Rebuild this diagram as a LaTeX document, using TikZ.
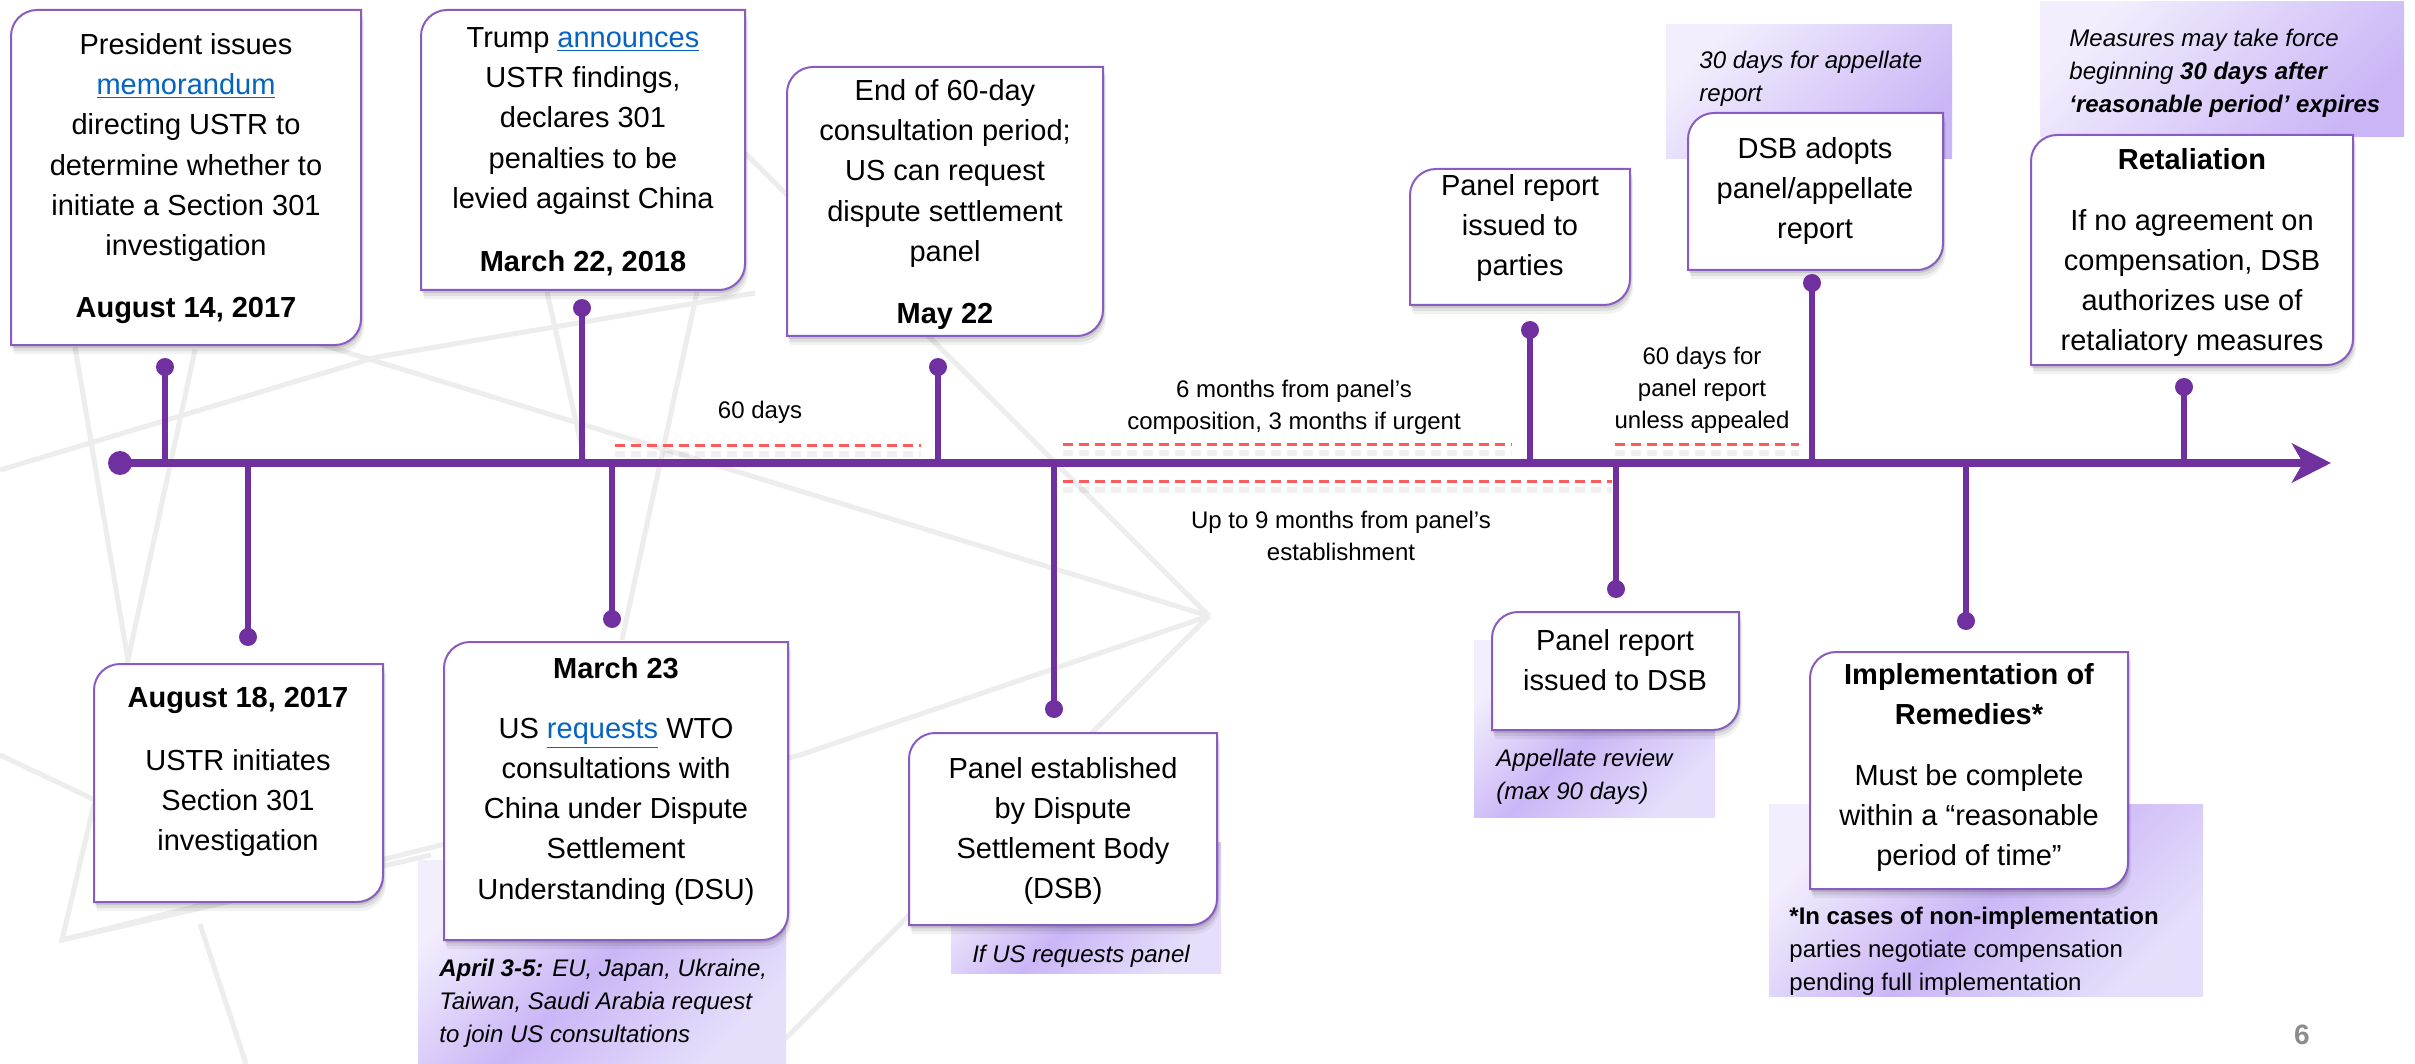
\documentclass[tikz,border=0pt]{standalone}
\usepackage{fontspec}
\setmainfont{Liberation Sans}
\usetikzlibrary{arrows.meta}
\definecolor{axpurple}{HTML}{7030A0}
\definecolor{boxedge}{HTML}{8A5CC2}
\definecolor{linkblue}{HTML}{0563C1}
\definecolor{dashred}{HTML}{FF5A5A}
\definecolor{bggray}{HTML}{EDEDED}
\definecolor{noteA}{HTML}{F3EEFD}
\definecolor{noteB}{HTML}{CAB6F6}
\definecolor{noteC}{HTML}{E6DEFB}
\definecolor{pagegray}{HTML}{8C8C8C}
\pgfdeclarelayer{bglines}\pgfdeclarelayer{notes}\pgfdeclarelayer{boxes}
\pgfsetlayers{bglines,notes,boxes,main}
\newcommand\lnk[1]{{\color{linkblue}\underline{#1}}}
\newcommand\framedraw[3]{%
 \path[#1] (#2.south west) -- ([yshift=-#3]#2.north west)
   .. controls ([yshift=-0.45*#3]#2.north west) and ([xshift=0.45*#3]#2.north west) .. ([xshift=#3]#2.north west)
   -- (#2.north east) -- ([yshift=#3]#2.south east)
   .. controls ([yshift=0.45*#3]#2.south east) and ([xshift=-0.45*#3]#2.south east) .. ([xshift=-#3]#2.south east)
   -- cycle;}
\newcommand\rbox[1]{%
 \begin{pgfonlayer}{boxes}
 \begin{scope}[transform canvas={xshift=0.5pt,yshift=-1.5pt}]\framedraw{fill=black,opacity=0.11}{#1}{13pt}\end{scope}
 \begin{scope}[transform canvas={xshift=1pt,yshift=-3pt}]\framedraw{fill=black,opacity=0.08}{#1}{13pt}\end{scope}
 \begin{scope}[transform canvas={xshift=1.5pt,yshift=-4.5pt}]\framedraw{fill=black,opacity=0.05}{#1}{13pt}\end{scope}
 \framedraw{fill=white,draw=boxedge,line width=1pt}{#1}{13pt}
 \end{pgfonlayer}}
\tikzset{
 frame/.style={inner sep=0pt,outer sep=0pt,draw=none},
 boxtext/.style={align=center,inner sep=0pt,font=\fontsize{14.5}{20.1}\selectfont},
 boxdate/.style={align=center,inner sep=0pt,font=\fontsize{14.5}{20.1}\selectfont\bfseries},
 lbl/.style={align=center,inner sep=0pt,font=\fontsize{12}{16}\selectfont},
 notetext/.style={align=left,inner sep=0pt,anchor=west,font=\fontsize{12}{16.5}\selectfont},
 dot/.style={circle,fill=axpurple,inner sep=0pt,minimum size=9pt},
 bigdot/.style={circle,fill=axpurple,inner sep=0pt,minimum size=12pt},
 stem/.style={axpurple,line width=3pt},
 axis/.style={axpurple,line width=4pt,-{Stealth[length=19.5pt,width=19.5pt,inset=5.5pt]}},
 redline/.style={dashred,line width=1.5pt,dash pattern=on 5pt off 3pt},
 redshadow/.style={black,opacity=0.06,line width=3pt,dash pattern=on 5pt off 3pt},
 bgline/.style={bggray,line width=2.5pt},
 notefill3/.style={top color=noteA,bottom color=noteC,middle color=noteB,shading angle=45},
 notefill2/.style={top color=noteA,bottom color=noteB,shading angle=45},
}
\begin{document}
\begin{tikzpicture}[x=0.5pt,y=-0.5pt]
\useasboundingbox (0,0) rectangle (2415,1064);

% background decoration
\begin{pgfonlayer}{bglines}
\fill[white] (0,0) rectangle (2415,1064);
\draw[bgline] (0,470) -- (377,357) -- (755,293);
\draw[bgline] (300,338) -- (1209,616);
\draw[bgline] (745,153) -- (1209,616);
\draw[bgline] (1209,616) -- (800,755) -- (62,940);
\draw[bgline] (1209,616) -- (760,1064);
\draw[bgline] (75,347) -- (128,660) -- (195,350);
\draw[bgline] (128,660) -- (62,940) -- (431,855);
\draw[bgline] (200,924) -- (246,1064);
\draw[bgline] (0,755) -- (95,800);
\draw[bgline] (547,292) -- (585,462);
\draw[bgline] (697,292) -- (622,640);
\end{pgfonlayer}

% notes
\begin{pgfonlayer}{notes}
\shade[notefill3] (418,860) rectangle (786,1064);
\shade[notefill3] (951,842) rectangle (1221,973);
\shade[notefill3] (1474,640) rectangle (1715,817);
\shade[notefill2] (1666,25) rectangle (1952,159);
\shade[notefill2] (2040,2) rectangle (2404,137);
\shade[notefill3] (1769,804) rectangle (2203,996);
\end{pgfonlayer}
\node[notetext,font=\fontsize{12}{16.5}\selectfont\itshape] (n1) at (439,1003) {\textbf{April 3-5:} EU, Japan, Ukraine,\\Taiwan, Saudi Arabia request\\to join US consultations};
\node[lbl,font=\fontsize{12}{16.5}\selectfont\itshape] (n2) at (1081,956) {If US requests panel};
\node[notetext,font=\fontsize{12}{16.5}\selectfont\itshape] (n3) at (1496,777) {Appellate review\\(max 90 days)};
\node[notetext,font=\fontsize{12}{16.5}\selectfont\itshape] (n4) at (1699,79) {30 days for appellate\\report};
\node[notetext,font=\fontsize{12}{16.5}\selectfont\itshape] (n5) at (2069,73) {Measures may take force\\beginning \textbf{30 days after}\\\textbf{‘reasonable period’ expires}};
\node[notetext] (n6) at (1789,951) {\textbf{*In cases of non-implementation}\\parties negotiate compensation\\pending full implementation};

% frames
\node[frame,minimum width=175pt,minimum height=167.5pt] (f1) at (186,177.5) {};
\node[frame,minimum width=162pt,minimum height=140pt] (f2) at (583,150) {};
\node[frame,minimum width=158pt,minimum height=134.5pt] (f3) at (945,201.5) {};
\node[frame,minimum width=144.5pt,minimum height=119pt] (f4) at (238.5,783) {};
\node[frame,minimum width=172pt,minimum height=149pt] (f5) at (616,791) {};
\node[frame,minimum width=154pt,minimum height=96pt] (f6) at (1063,829) {};
\node[frame,minimum width=110pt,minimum height=68pt] (f7) at (1520,237) {};
\node[frame,minimum width=123.5pt,minimum height=59pt] (f8) at (1615.5,671) {};
\node[frame,minimum width=127.5pt,minimum height=78.5pt] (f9) at (1815.5,191.5) {};
\node[frame,minimum width=161pt,minimum height=115pt] (f10) at (2192,250) {};
\node[frame,minimum width=159pt,minimum height=118.5pt] (f11) at (1969,770.5) {};
\rbox{f1}\rbox{f2}\rbox{f3}\rbox{f4}\rbox{f5}\rbox{f6}\rbox{f7}\rbox{f8}\rbox{f9}\rbox{f10}\rbox{f11}

% box texts
\node[boxtext] (t1) at (186,147.5) {President issues\\\lnk{memorandum}\\directing USTR to\\determine whether to\\initiate a Section 301\\investigation};
\node[boxdate] (t1d) at (186,310) {August 14, 2017};
\node[boxtext] (t2) at (583,121) {Trump \lnk{announces}\\USTR findings,\\declares 301\\penalties to be\\levied against China};
\node[boxdate] (t2d) at (583,263) {March 22, 2018};
\node[boxtext] (t3) at (945,173.5) {End of 60-day\\consultation period;\\US can request\\dispute settlement\\panel};
\node[boxdate] (t3d) at (945,316) {May 22};
\node[boxdate] (t4d) at (238,700) {August 18, 2017};
\node[boxtext] (t4) at (238,803) {USTR initiates\\Section 301\\investigation};
\node[boxdate] (t5d) at (616,668) {March 23};
\node[boxtext] (t5) at (616,811.5) {US \lnk{requests} WTO\\consultations with\\China under Dispute\\Settlement\\Understanding (DSU)};
\node[boxtext] (t6) at (1063,831) {Panel established\\by Dispute\\Settlement Body\\(DSB)};
\node[boxtext] (t7) at (1520,228) {Panel report\\issued to\\parties};
\node[boxtext] (t8) at (1615,660.5) {Panel report\\issued to DSB};
\node[boxtext] (t9) at (1815,191) {DSB adopts\\panel/appellate\\report};
\node[boxdate] (t10d) at (2192,159) {Retaliation};
\node[boxtext] (t10) at (2192,283) {If no agreement on\\compensation, DSB\\authorizes use of\\retaliatory measures};
\node[boxdate] (t11d) at (1969,694) {Implementation of\\Remedies*};
\node[boxtext] (t11) at (1969,818) {Must be complete\\within a “reasonable\\period of time”};

% period labels and dashed spans
\node[lbl] (l1) at (760,412) {60 days};
\node[lbl] (l2) at (1294,407) {6 months from panel’s\\composition, 3 months if urgent};
\node[lbl] (l3) at (1702,390) {60 days for\\panel report\\unless appealed};
\node[lbl] (l4) at (1341,536) {Up to 9 months from panel’s\\establishment};
\coordinate (p1a) at (615,445); \coordinate (p1b) at (921,445);
\coordinate (p2a) at (1063,444); \coordinate (p2b) at (1512,444);
\coordinate (p3a) at (1615,444); \coordinate (p3b) at (1799,444);
\coordinate (p4a) at (1063,481); \coordinate (p4b) at (1612,481);
\foreach \a/\b in {p1a/p1b,p2a/p2b,p3a/p3b,p4a/p4b}{
  \draw[redshadow,transform canvas={yshift=-4.5pt}] (\a) -- (\b);
  \draw[redline] (\a) -- (\b);
}

% axis
\node[bigdot] (start) at (120,463) {};
\coordinate (axend) at (2331,463);
\draw[axis] (start.center) -- (axend);

% stems above
\node[dot] (d1) at (165,367) {};  \coordinate (a1) at (165,463);
\node[dot] (d2) at (582,308) {};  \coordinate (a2) at (582,463);
\node[dot] (d3) at (938,367) {};  \coordinate (a3) at (938,463);
\node[dot] (d4) at (1530,330) {}; \coordinate (a4) at (1530,463);
\node[dot] (d5) at (1812,283) {}; \coordinate (a5) at (1812,463);
\node[dot] (d6) at (2184,387) {}; \coordinate (a6) at (2184,463);
% stems below
\node[dot] (e1) at (248,637) {};  \coordinate (b1) at (248,463);
\node[dot] (e2) at (612,619) {};  \coordinate (b2) at (612,463);
\node[dot] (e3) at (1054,709) {}; \coordinate (b3) at (1054,463);
\node[dot] (e4) at (1616,589) {}; \coordinate (b4) at (1616,463);
\node[dot] (e5) at (1966,621) {}; \coordinate (b5) at (1966,463);
\foreach \d/\c in {d1/a1,d2/a2,d3/a3,d4/a4,d5/a5,d6/a6,e1/b1,e2/b2,e3/b3,e4/b4,e5/b5}{
  \draw[stem] (\d.center) -- (\c);
}

% page number
\node[text=pagegray,font=\fontsize{14}{16}\selectfont\bfseries,inner sep=0pt] (pg) at (2302,1035) {6};
\end{tikzpicture}
\end{document}
